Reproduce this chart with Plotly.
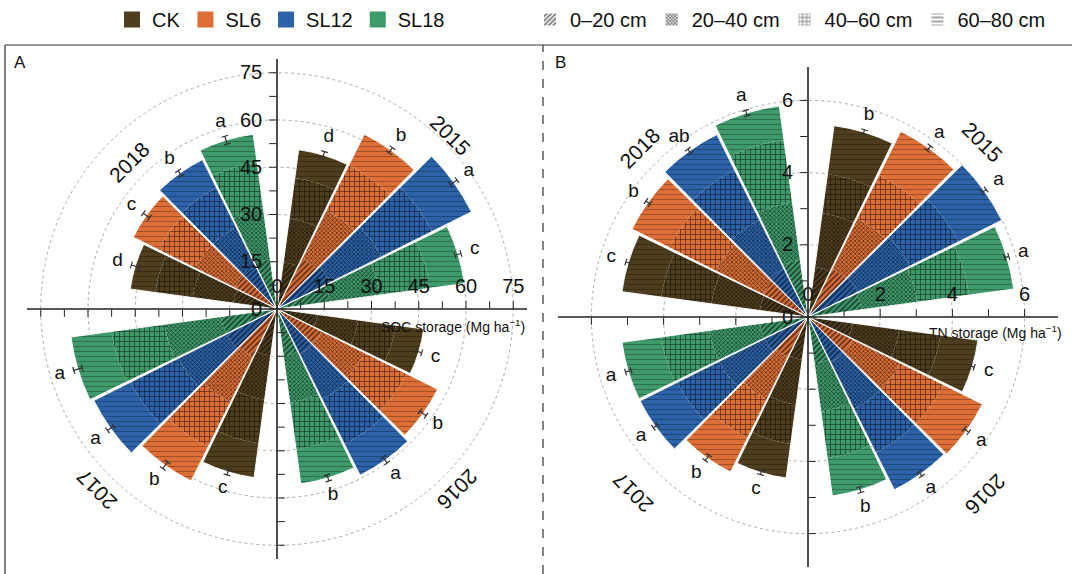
import math
import plotly.graph_objects as go

# ---------------- data ----------------
years = ["2015", "2016", "2017", "2018"]
treatments = ["CK", "SL6", "SL12", "SL18"]
depths = ["0–20 cm", "20–40 cm", "40–60 cm", "60–80 cm"]
colors = {"CK": "#4F3E1E", "SL6": "#DC6E36", "SL12": "#2B62A8", "SL18": "#3F9A6B"}

# order of 16 bars: 2015 (CK, SL6, SL12, SL18), 2016 (...), 2017 (...), 2018 (...)
soc_0_20 = [15, 18, 19, 17, 13, 16, 16, 15, 15, 17, 18, 18, 14, 15, 15, 16]
soc_20_40 = [14, 17, 18, 16, 13, 15, 16, 15, 14, 16, 17, 18, 13, 14, 14, 16]
soc_40_60 = [13, 16, 18, 16, 12, 15, 16, 15, 14, 16, 17, 17, 12, 13, 14, 15]
soc_60_80 = [9, 11, 14, 11, 9, 11, 11, 11, 11, 12, 13, 13, 8, 9, 10, 9]
soc_err = [1.2, 1.0, 1.3, 1.0, 1.0, 1.2, 1.1, 1.0, 1.0, 1.3, 1.2, 1.4, 1.3, 1.2, 1.0, 1.3]
soc_letters = ["d", "b", "a", "c", "c", "b", "a", "b", "c", "b", "a", "a", "d", "c", "b", "a"]

tn_0_20 = [1.40, 1.50, 1.55, 1.50, 1.25, 1.40, 1.40, 1.30, 1.20, 1.25, 1.35, 1.35, 1.35, 1.40, 1.50, 1.60]
tn_20_40 = [1.50, 1.55, 1.60, 1.55, 1.30, 1.45, 1.45, 1.35, 1.25, 1.30, 1.40, 1.40, 1.35, 1.45, 1.50, 1.60]
tn_40_60 = [1.10, 1.35, 1.50, 1.45, 1.15, 1.35, 1.35, 1.30, 1.10, 1.20, 1.30, 1.35, 1.40, 1.45, 1.55, 1.75]
tn_60_80 = [1.35, 1.35, 1.35, 1.25, 1.05, 1.20, 1.15, 1.05, 0.95, 1.05, 1.15, 1.10, 1.10, 1.15, 1.10, 0.95]
tn_err = [0.07, 0.08, 0.07, 0.06, 0.06, 0.08, 0.07, 0.08, 0.06, 0.09, 0.07, 0.08, 0.07, 0.07, 0.07, 0.08]
tn_letters = ["b", "a", "a", "a", "c", "a", "a", "b", "c", "b", "a", "a", "c", "b", "ab", "a"]

soc_ticks = [0, 15, 30, 45, 60, 75]
tn_ticks = [0, 2, 4, 6]
year_label_r_soc = {"2015": 78, "2016": 81, "2017": 81, "2018": 66}
year_label_r_tn = {"2015": 6.85, "2016": 6.95, "2017": 6.87, "2018": 6.62}

# ---------------- layout geometry ----------------
W, H = 1072, 574
R_PX = 250
panels = {
    "A": dict(cx=277, cy=309, rmax=250 / 3.15, minor=7.5, ticks=soc_ticks,
              layers=[soc_0_20, soc_20_40, soc_40_60, soc_60_80], err=soc_err,
              letters=soc_letters, yr=year_label_r_soc, loff=4.6,
              title="SOC storage (Mg ha<sup>−1</sup>)", tx=527, ty=326),
    "B": dict(cx=808, cy=317, rmax=250 / 36.1, minor=1.0, ticks=tn_ticks,
              layers=[tn_0_20, tn_20_40, tn_40_60, tn_60_80], err=tn_err,
              letters=tn_letters, yr=year_label_r_tn, loff=0.42,
              title="TN storage (Mg ha<sup>−1</sup>)", tx=1064, ty=332),
}
year_quadrant = {"2015": 0, "2018": 1, "2017": 2, "2016": 3}
ccw_order = {"SL18": 0, "SL12": 1, "SL6": 2, "CK": 3}
BAR_W = 18.1
STEP = 18.8

thetas, bar_treat = [], []
for y in years:
    for t in treatments:
        q = year_quadrant[y]
        k = ccw_order[t]
        thetas.append(90 * q + 45 + (k - 1.5) * STEP)
        bar_treat.append(t)

pattern_specs = [
    dict(shape="/", size=4, solidity=0.4, op=0.6),
    dict(shape="x", size=3, solidity=0.45, op=0.6),
    dict(shape="+", size=5, solidity=0.25, op=0.65),
    dict(shape="-", size=5, solidity=0.18, op=0.3),
]

NARROW = "Liberation Sans Narrow, Arial Narrow, Liberation Sans, Arial, sans-serif"
SANS = "Liberation Sans, Arial, sans-serif"

fig = go.Figure()
layout_polars = {}
annotations = []
pidx = 0


def dom(cx, cy):
    return dict(x=[(cx - R_PX) / W, (cx + R_PX) / W],
                y=[1 - (cy + R_PX) / H, 1 - (cy - R_PX) / H])


for pname, P in panels.items():
    cx, cy, rmax = P["cx"], P["cy"], P["rmax"]
    pxu = R_PX / rmax
    pidx += 1
    bar_sub = "polar" if pidx == 1 else f"polar{pidx}"
    layout_polars[bar_sub] = dict(
        domain=dom(cx, cy), bgcolor="rgba(0,0,0,0)",
        angularaxis=dict(visible=False, rotation=0, direction="counterclockwise"),
        radialaxis=dict(range=[0, rmax], showline=False, showticklabels=False, ticks="",
                        tickvals=P["ticks"][1:], showgrid=True, griddash="dot",
                        gridcolor="#ababab", gridwidth=1.4),
        barmode="stack",
    )
    n = len(thetas)
    # stacked bars: one trace per treatment and depth layer
    for li, layer in enumerate(P["layers"]):
        ps = pattern_specs[li]
        for t in treatments:
            idx = [i for i in range(n) if bar_treat[i] == t]
            fig.add_trace(go.Barpolar(
                r=[layer[i] for i in idx], theta=[thetas[i] for i in idx],
                width=BAR_W, subplot=bar_sub,
                marker=dict(color=colors[t], line=dict(color="rgba(0,0,0,0)", width=0),
                            pattern=dict(shape=ps["shape"], size=ps["size"],
                                         solidity=ps["solidity"], fillmode="overlay",
                                         fgcolor="#000000", fgopacity=ps["op"],
                                         bgcolor=colors[t])),
                showlegend=False, hoverinfo="skip"))
    # white outlines of each whole bar
    totals = [sum(v) for v in zip(*P["layers"])]
    fig.add_trace(go.Barpolar(
        r=totals, theta=thetas, width=BAR_W, subplot=bar_sub,
        base=[0] * n,
        marker=dict(color="rgba(0,0,0,0)", line=dict(color="white", width=0.9)),
        showlegend=False, hoverinfo="skip"))
    # error bars
    er, et = [], []
    for v, e, th in zip(totals, P["err"], thetas):
        er += [v - e, v + e, None]
        et += [th, th, None]
        for rr in (v - e, v + e):
            d = math.degrees(3.5 / (rr * pxu))
            er += [rr, rr, None]
            et += [th - d, th + d, None]
    fig.add_trace(go.Scatterpolar(r=er, theta=et, mode="lines", subplot=bar_sub,
                                  line=dict(color="#333333", width=1.2),
                                  showlegend=False, hoverinfo="skip"))
    # letters
    fig.add_trace(go.Scatterpolar(
        r=[v + e + P["loff"] for v, e in zip(totals, P["err"])], theta=thetas,
        mode="text", text=P["letters"], subplot=bar_sub,
        textfont=dict(family=SANS, size=19, color="#111"),
        showlegend=False, hoverinfo="skip"))

    # axis polars in four directions
    minor_vals = []
    v = 0.0
    while v <= P["ticks"][-1] + 1e-9:
        minor_vals.append(round(v, 3))
        v += P["minor"]
    for ang in (0, 90, 180, 270):
        pidx += 1
        sub = f"polar{pidx}"
        labeled = ang in (0, 90)
        ttext = []
        for mv in minor_vals:
            if labeled and any(abs(mv - t) < 1e-6 for t in P["ticks"]):
                ttext.append(f"{mv:g}")
            else:
                ttext.append("")
        layout_polars[sub] = dict(
            domain=dom(cx, cy), bgcolor="rgba(0,0,0,0)",
            angularaxis=dict(visible=False),
            radialaxis=dict(range=[0, rmax], angle=ang, side="counterclockwise",
                            showline=True, linecolor="#222", linewidth=1.6,
                            ticks="outside", ticklen=7, tickwidth=1.4, tickcolor="#222",
                            tickvals=minor_vals, ticktext=ttext, showgrid=False,
                            tickangle=ang,
                            tickfont=dict(family=NARROW, size=20, color="#111")),
        )
        fig.add_trace(go.Scatterpolar(r=[0], theta=[0], mode="markers", subplot=sub,
                                      marker=dict(size=0.1, color="rgba(0,0,0,0)"),
                                      showlegend=False, hoverinfo="skip"))

    # year labels
    for y in years:
        ang = 45 + 90 * year_quadrant[y]
        rp = P["yr"][y] * pxu
        x = cx + rp * math.cos(math.radians(ang))
        yy = cy - rp * math.sin(math.radians(ang))
        ta = 90 - ang
        if ta <= -180:
            ta += 360
        annotations.append(dict(x=x / W, y=1 - yy / H, xref="paper", yref="paper",
                                xanchor="center", yanchor="middle",
                                text=y, showarrow=False, textangle=ta,
                                font=dict(family=SANS, size=21, color="#111")))
    annotations.append(dict(x=P["tx"] / W, y=1 - P["ty"] / H, xref="paper", yref="paper",
                            text=P["title"], showarrow=False, xanchor="right", yanchor="middle",
                            font=dict(family=SANS, size=14, color="#111")))

annotations.append(dict(x=12 / W, y=1 - 62 / H, xref="paper", yref="paper", text="A",
                        showarrow=False, xanchor="left", yanchor="middle",
                        font=dict(family=SANS, size=17, color="#111")))
annotations.append(dict(x=553 / W, y=1 - 62 / H, xref="paper", yref="paper", text="B",
                        showarrow=False, xanchor="left", yanchor="middle",
                        font=dict(family=SANS, size=17, color="#111")))

# legend entries
for t in treatments:
    fig.add_trace(go.Scatterpolar(r=[None], theta=[None], name=t, subplot="polar", legend="legend",
                                  mode="markers",
                                  marker=dict(symbol="square", size=22, color=colors[t]),
                                  hoverinfo="skip"))
for d, ps in zip(depths, pattern_specs):
    fig.add_trace(go.Barpolar(r=[0], theta=[0], name=d, subplot="polar", legend="legend2",
                              marker=dict(color="white", line=dict(width=0),
                                          pattern=dict(shape=ps["shape"], size=ps["size"],
                                                       solidity=ps["solidity"] + 0.15,
                                                       fillmode="overlay", fgcolor="#777",
                                                       fgopacity=1, bgcolor="white")),
                              hoverinfo="skip"))

shapes = [
    dict(type="line", xref="paper", yref="paper", x0=5 / W, x1=1, y0=1 - 45 / H, y1=1 - 45 / H,
         line=dict(color="#333", width=1.2)),
    dict(type="line", xref="paper", yref="paper", x0=5 / W, x1=5 / W, y0=0, y1=1 - 45 / H,
         line=dict(color="#333", width=1.2)),
    dict(type="line", xref="paper", yref="paper", x0=543 / W, x1=543 / W, y0=0, y1=1 - 45 / H,
         line=dict(color="#333", width=1.2, dash="dash")),
]

fig.update_layout(
    width=W, height=H, margin=dict(l=0, r=0, t=0, b=0), autosize=False,
    paper_bgcolor="white", plot_bgcolor="white",
    font=dict(family=SANS, color="#111"),
    annotations=annotations, shapes=shapes,
    legend=dict(orientation="h", x=112 / W, y=1.0, xanchor="left", yanchor="top",
                font=dict(family=NARROW, size=20), bgcolor="rgba(0,0,0,0)",
                itemwidth=30, tracegroupgap=0),
    legend2=dict(orientation="h", x=530 / W, y=1.0, xanchor="left", yanchor="top",
                 font=dict(family=NARROW, size=20), bgcolor="rgba(0,0,0,0)",
                 itemwidth=30, tracegroupgap=0),
    **layout_polars,
)

fig.write_html("out.html", config={"displayModeBar": False},
               post_script="document.body.style.margin='0px';document.body.style.overflow='hidden';")
